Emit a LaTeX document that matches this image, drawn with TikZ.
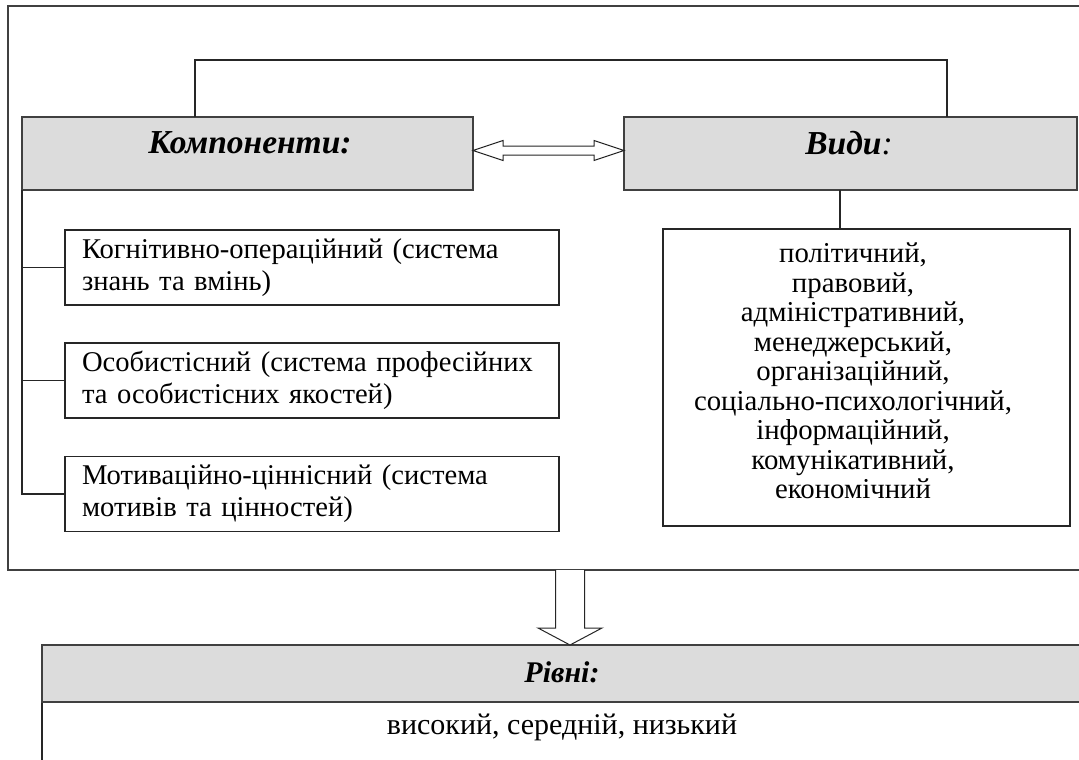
\documentclass[tikz,border=0pt]{standalone}
\usepackage{fontspec}
\setmainfont{Liberation Serif}
\usetikzlibrary{calc}
\definecolor{boxgray}{HTML}{DCDCDC}
\definecolor{linegray}{HTML}{404040}
\begin{document}
\begin{tikzpicture}[x=1pt,y=-1pt]
\tikzset{
  frame/.style={draw=linegray, line width=1.1pt},
  graybox/.style={draw=linegray, fill=boxgray, line width=1.3pt, inner sep=0pt, outer sep=0pt},
  whitebox/.style={draw=black!85, fill=white, line width=1.1pt, inner sep=0pt, outer sep=0pt},
  link/.style={draw=black!85, line width=1.1pt},
  hollow/.style={draw=black!85, fill=white, line width=1pt, line join=miter},
  headtxt/.style={font=\fontsize{33.5}{36}\selectfont\bfseries\itshape, inner sep=0pt},
  levtxt/.style={font=\fontsize{30}{32}\selectfont\bfseries\itshape, inner sep=0pt},
  bodytxt/.style={font=\fontsize{28.6}{32}\selectfont},
  lowtxt/.style={font=\fontsize{30}{32}\selectfont, inner sep=0pt},
  listtxt/.style={font=\fontsize{28.8}{29.5}\selectfont, align=center, inner sep=0pt},
}
\useasboundingbox (0,0) rectangle (1079,760);
\clip (0,0) rectangle (1079,760);
\fill[white] (0,0) rectangle (1079,760);

% outer frame (right edge outside the picture)
\draw[frame] (1100,6) -- (8,6) -- (8,570) -- (1100,570);

% header boxes
\node[graybox, minimum width=451pt, minimum height=73pt] (komp) at (247.5,153.5) {};
\node[headtxt] (kompt) at (250,143) {Компоненти:};
\node[graybox, minimum width=453pt, minimum height=73pt] (vydy) at (850.5,153.5) {};
\node[headtxt] (vydyt) at (849,143) {Види\textmd{:}};

% top link
\coordinate (tl) at (195,60);
\coordinate (tr) at (947,60);
\draw[link] (komp.north -| tl) -- (tl) -- (tr) -- (vydy.north -| tr);

% double hollow arrow
\coordinate (al) at ([yshift=3pt]komp.east);
\coordinate (ar) at ([yshift=3pt]vydy.west);
\draw[hollow] (al) -- ++(30,-10) -- ++(0,5.5) -- ($(ar)+(-30,-4.5)$) -- ++(0,-5.5)
  -- (ar) -- ++(-30,10) -- ++(0,-5.5) -- ($(al)+(30,4.5)$) -- ++(0,5.5) -- cycle;

% component boxes
\node[whitebox, text width=460pt, inner xsep=17pt, minimum height=75pt, align=left, bodytxt] (k1) at (312,267.5)
  {Когнітивно-операційний (система\\знань та вмінь)};
\node[whitebox, text width=460pt, inner xsep=17pt, minimum height=75pt, align=left, bodytxt] (k2) at (312,380.5)
  {Особистісний (система професійних\\та особистісних якостей)};
\node[whitebox, text width=460pt, inner xsep=17pt, minimum height=75pt, align=left, bodytxt] (k3) at (312,494)
  {Мотиваційно-ціннісний (система\\мотивів та цінностей)};
\draw[link] (komp.south west) -- (komp.south west |- k3.west) -- (k3.west);
\draw[link] (komp.south west |- k1.west) -- (k1.west);
\draw[link] (komp.south west |- k2.west) -- (k2.west);

% types list
\node[whitebox, minimum width=407pt, minimum height=297pt] (vl) at (866.5,377.5) {};
\node[listtxt] (vlt) at (853,371) {політичний,\\правовий,\\адміністративний,\\менеджерський,\\організаційний,\\соціально-психологічний,\\інформаційний,\\комунікативний,\\економічний};
\coordinate (vx) at (840,0);
\draw[link] (vydy.south -| vx) -- (vl.north -| vx);

% levels
\node[whitebox, minimum width=1040pt, minimum height=90pt] (rlist) at (562,747) {};
\node[graybox, minimum width=1040pt, minimum height=57pt] (rivni) at (562,673.5) {};
\node[levtxt] (rivnit) at (562,672) {Рівні:};
\node[lowtxt] (rlt) at (562,727) {високий, середній, низький};

% down hollow arrow
\coordinate (fb) at (570,570);
\coordinate (ftip) at (rivni.north -| fb);
\draw[hollow] ($(fb)+(-14.5,0)$) -- ($(ftip)+(-14.5,-17)$) -- ($(ftip)+(-32,-17)$) -- (ftip)
  -- ($(ftip)+(32,-17)$) -- ($(ftip)+(14.5,-17)$) -- ($(fb)+(14.5,0)$);
\end{tikzpicture}
\end{document}
